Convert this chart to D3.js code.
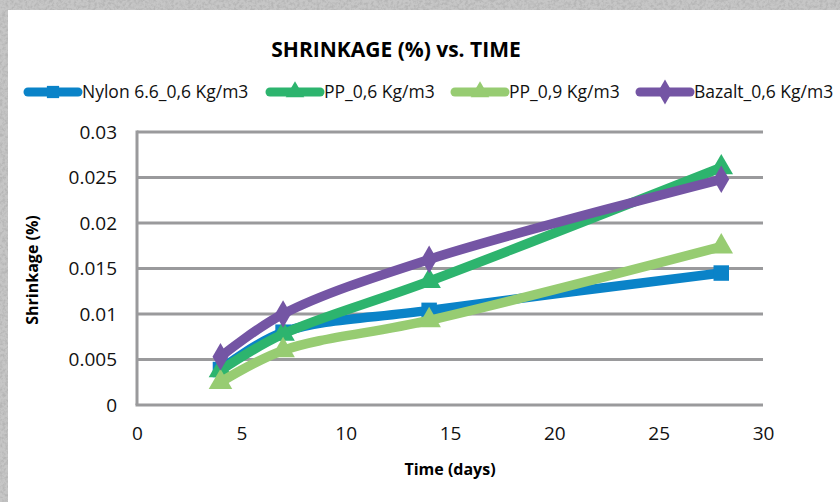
<!DOCTYPE html>
<html>
<head>
<meta charset="utf-8">
<script src="https://cdn.jsdelivr.net/npm/d3@7"></script>
<style>
body { margin: 0; padding: 0; overflow: hidden; }
text { font-family: "Open Sans", "DejaVu Sans", sans-serif; }
</style>
</head>
<body>
<svg id="chart"></svg>
<script>
// donnees
var days = [4, 7, 14, 28];
var nylon = [0.0039, 0.008, 0.0104, 0.0145];
var pp06 = [0.0038, 0.0078, 0.0136, 0.0261];
var pp09 = [0.0025, 0.006, 0.0093, 0.0174];
var bazalt = [0.0053, 0.01, 0.016, 0.0248];
var seriesNames = ["Nylon 6.6_0,6 Kg/m3", "PP_0,6 Kg/m3", "PP_0,9 Kg/m3", "Bazalt_0,6 Kg/m3"];
var xTicks = [0, 5, 10, 15, 20, 25, 30];
var yTicks = [0, 0.005, 0.01, 0.015, 0.02, 0.025, 0.03];

var colors = ["#0a83c8", "#2db46e", "#97cc72", "#7455a4"];
var symbols = [d3.symbolSquare, d3.symbolTriangle, d3.symbolTriangle, d3.symbolDiamond];
var allValues = [nylon, pp06, pp09, bazalt];

var width = 840, height = 502;
var plotLeft = 137, plotRight = 763, plotTop = 132, plotBottom = 405;

var svg = d3.select("#chart").attr("width", width).attr("height", height);

// fond texture
var defs = svg.append("defs");
var filt = defs.append("filter").attr("id", "stone").attr("x", 0).attr("y", 0).attr("width", 1).attr("height", 1);
filt.append("feTurbulence").attr("type", "fractalNoise").attr("baseFrequency", "0.35").attr("numOctaves", 4).attr("result", "n");
filt.append("feColorMatrix").attr("type", "matrix")
	.attr("values", "0 0 0 0 0.45  0 0 0 0 0.45  0 0 0 0 0.45  -3 0 0 0 1.8");
svg.append("rect").attr("width", width).attr("height", height).attr("fill", "#c6c6c6");
svg.append("rect").attr("width", width).attr("height", height).attr("filter", "url(#stone)").attr("opacity", 0.8);
svg.append("rect").attr("x", 8).attr("y", 10).attr("width", width - 8).attr("height", height - 10).attr("fill", "#fff");

// echelles
var x = d3.scaleLinear().domain([0, 30]).range([plotLeft, plotRight]);
var y = d3.scaleLinear().domain([0, 0.03]).range([plotBottom, plotTop]);

// grille
svg.append("g").selectAll("line").data(yTicks.slice(1)).enter().append("line")
	.attr("x1", plotLeft).attr("x2", plotRight)
	.attr("y1", function(d){return y(d);}).attr("y2", function(d){return y(d);})
	.attr("stroke", "#9a9a9c").attr("stroke-width", 3);

// axes
var yAxis = d3.axisLeft(y).tickValues(yTicks).tickSize(0).tickPadding(20)
	.tickFormat(function(d){return d === 0 ? "0" : String(+d.toFixed(3));});
var gy = svg.append("g").attr("transform", "translate(" + plotLeft + ",0)").call(yAxis);
gy.select(".domain").attr("stroke", "#9a9a9c").attr("stroke-width", 3).attr("d", "M0," + (plotTop - 1.5) + "V" + plotBottom);
gy.selectAll("text").attr("font-size", 19).attr("fill", "#111");

var xAxis = d3.axisBottom(x).tickValues(xTicks).tickSize(0).tickPadding(22);
var gx = svg.append("g").attr("transform", "translate(0," + plotBottom + ")").call(xAxis);
gx.select(".domain").attr("stroke", "#9a9a9c").attr("stroke-width", 3).attr("d", "M" + (plotLeft - 1.5) + ",0H" + plotRight);
gx.selectAll("text").attr("font-size", 19).attr("fill", "#111");

// courbes
var line = d3.line()
	.x(function(d){return x(d[0]);})
	.y(function(d){return y(d[1]);})
	.curve(d3.curveCatmullRom.alpha(0.5));

allValues.forEach(function(vals, i) {
	var pts = days.map(function(d, j){return [d, vals[j]];});
	var g = svg.append("g");
	g.append("path").attr("d", line(pts)).attr("fill", "none")
		.attr("stroke", colors[i]).attr("stroke-width", 9.5).attr("stroke-linecap", "round");
	g.selectAll("path.m").data(pts).enter().append("path").attr("class", "m")
		.attr("transform", function(d){return "translate(" + x(d[0]) + "," + y(d[1]) + ")";})
		.attr("d", d3.symbol().type(symbols[i]).size(symbols[i] === d3.symbolDiamond ? 220 : 240))
		.attr("fill", colors[i]);
});

// titre
svg.append("text").attr("x", 396).attr("y", 57).attr("text-anchor", "middle")
	.attr("font-size", 21).attr("font-weight", "bold").attr("fill", "#000")
	.text("SHRINKAGE (%) vs. TIME");

// legende
var legX = [28, 270, 455, 640];
var leg = svg.append("g").selectAll("g").data(seriesNames).enter().append("g")
	.attr("transform", function(d, i){return "translate(" + legX[i] + ",92)";});
leg.append("line").attr("x1", 0).attr("x2", 50)
	.attr("stroke", function(d, i){return colors[i];}).attr("stroke-width", 9).attr("stroke-linecap", "round");
leg.append("path")
	.attr("transform", "translate(25,0)")
	.attr("d", function(d, i){return d3.symbol().type(symbols[i]).size(symbols[i] === d3.symbolDiamond ? 180 : 150)();})
	.attr("fill", function(d, i){return colors[i];});
leg.append("text").attr("x", 54).attr("y", 6).attr("font-size", 17.5).attr("fill", "#111")
	.text(function(d){return d;});

// titres des axes
svg.append("text").attr("x", 450).attr("y", 475).attr("text-anchor", "middle")
	.attr("font-size", 16).attr("font-weight", "bold").attr("fill", "#000")
	.text("Time (days)");
svg.append("text").attr("transform", "translate(38,270) rotate(-90)").attr("text-anchor", "middle")
	.attr("font-size", 16).attr("font-weight", "bold").attr("fill", "#000")
	.text("Shrinkage (%)");
</script>
</body>
</html>
